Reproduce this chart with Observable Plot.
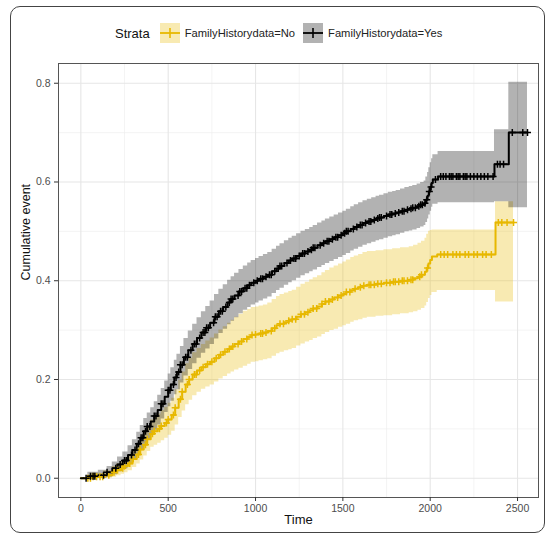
<!DOCTYPE html>
<html><head><meta charset="utf-8">
<script src="https://cdn.jsdelivr.net/npm/d3@7"></script>
<script src="https://cdn.jsdelivr.net/npm/@observablehq/plot@0.6"></script>
<style>
body{margin:0;background:#fff;font-family:"Liberation Sans",Arial,sans-serif;}
#wrap{position:relative;width:553px;height:535px;overflow:hidden;background:#fff}
#border{position:absolute;left:10px;top:6px;width:535px;height:527px;border:1px solid #444;border-radius:10px;box-sizing:border-box;z-index:5;pointer-events:none;background:transparent}
#legend{position:absolute;left:115px;top:22px;height:22px;display:flex;align-items:center;font-size:11.2px;color:#222;white-space:nowrap;z-index:3}
#legend .title{font-size:13px;margin-right:10px;color:#111}
#legend .lab{margin-left:5px;margin-right:8px}
#chart{position:absolute;left:0;top:55px;z-index:1}
</style></head><body>
<div id="wrap"><div id="border"></div><div id="legend"></div><div id="chart"></div></div>
<script>
// ---------- data ----------
const strata = ["FamilyHistorydata=No", "FamilyHistorydata=Yes"];
const strataColors = ["#E7B800", "#000000"];

// FamilyHistorydata=No : cumulative event step curve and its confidence band
const noTime = [0,60,130,180,205,230,250,270,295,320,340,360,380,400,420,440,460,480,500,520,540,560,580,600,620,640,665,690,715,740,765,790,815,840,860,880,905,930,955,975,1000,1020,1045,1070,1095,1120,1140,1165,1190,1210,1235,1260,1285,1310,1330,1355,1380,1400,1425,1450,1475,1500,1520,1545,1565,1590,1615,1640,1690,1735,1785,1830,1880,1905,1930,1950,1970,1980,1990,2000,2010,2040,2374,2477];
const noEst  = [0,0.003,0.006,0.012,0.016,0.02,0.025,0.03,0.039,0.048,0.058,0.068,0.079,0.09,0.095,0.1,0.106,0.112,0.119,0.128,0.143,0.16,0.175,0.19,0.2,0.21,0.218,0.225,0.231,0.236,0.243,0.25,0.256,0.262,0.267,0.272,0.277,0.282,0.286,0.29,0.291,0.293,0.295,0.298,0.304,0.31,0.313,0.316,0.319,0.322,0.327,0.332,0.336,0.34,0.344,0.348,0.353,0.358,0.362,0.366,0.37,0.373,0.377,0.381,0.384,0.387,0.39,0.392,0.394,0.396,0.398,0.4,0.402,0.405,0.408,0.412,0.418,0.426,0.435,0.442,0.449,0.453,0.518,0.518];
const noLower = [0,0,0,0.002,0.005,0.008,0.011,0.015,0.022,0.029,0.037,0.045,0.054,0.063,0.067,0.071,0.076,0.081,0.087,0.095,0.108,0.123,0.136,0.149,0.158,0.167,0.174,0.18,0.185,0.189,0.195,0.201,0.206,0.211,0.215,0.219,0.223,0.227,0.231,0.235,0.236,0.238,0.24,0.242,0.247,0.252,0.255,0.258,0.26,0.263,0.268,0.272,0.276,0.279,0.283,0.286,0.291,0.295,0.299,0.302,0.306,0.309,0.312,0.316,0.319,0.321,0.324,0.326,0.328,0.329,0.331,0.333,0.335,0.337,0.34,0.344,0.349,0.356,0.364,0.37,0.376,0.38,0.357,0.357];
const noUpper = [0,0.01,0.015,0.024,0.029,0.034,0.04,0.046,0.057,0.068,0.08,0.092,0.105,0.118,0.124,0.13,0.137,0.144,0.152,0.162,0.179,0.198,0.215,0.232,0.243,0.254,0.263,0.271,0.278,0.284,0.292,0.3,0.307,0.314,0.32,0.326,0.332,0.338,0.342,0.346,0.347,0.349,0.351,0.355,0.362,0.368,0.372,0.375,0.378,0.381,0.387,0.393,0.397,0.402,0.406,0.41,0.416,0.421,0.426,0.43,0.434,0.438,0.442,0.447,0.45,0.453,0.457,0.459,0.461,0.463,0.465,0.467,0.469,0.472,0.476,0.48,0.486,0.494,0.5,0.502,0.503,0.503,0.56,0.56];
const noCensor = [40,55,70,90,110,125,160,190,210,240,250,280,300,330,340,370,380,410,420,450,460,490,500,530,540,570,580,610,620,650,660,680,700,725,750,775,800,825,850,870,900,920,950,980,1000,1030,1040,1060,1090,1110,1140,1160,1190,1210,1230,1260,1280,1300,1330,1350,1380,1400,1420,1440,1470,1490,1520,1540,1570,1600,1620,1650,1660,1680,1700,1720,1750,1770,1790,1800,1820,1840,1850,1870,1890,1900,1940,1950,1985,2060,2080,2100,2130,2150,2170,2200,2220,2250,2270,2300,2320,2350,2390,2410,2440,2477];

// FamilyHistorydata=Yes : cumulative event step curve and its confidence band
const yesTime = [0,40,100,150,180,210,240,270,295,320,340,360,380,400,420,440,460,480,500,515,535,550,570,590,615,640,665,690,715,740,765,790,815,840,860,880,905,930,955,975,1000,1020,1045,1070,1095,1120,1140,1165,1190,1210,1235,1260,1285,1310,1330,1355,1380,1400,1425,1450,1475,1500,1520,1545,1565,1590,1615,1640,1665,1690,1710,1735,1760,1785,1805,1830,1855,1880,1900,1925,1945,1965,1975,1985,1992,2000,2008,2015,2045,2368,2450,2557];
const yesEst  = [0,0.004,0.006,0.012,0.02,0.028,0.036,0.047,0.057,0.07,0.082,0.095,0.105,0.115,0.126,0.138,0.151,0.165,0.178,0.19,0.204,0.215,0.23,0.245,0.259,0.272,0.284,0.295,0.305,0.315,0.327,0.338,0.347,0.356,0.363,0.37,0.378,0.385,0.391,0.396,0.4,0.404,0.408,0.412,0.419,0.425,0.43,0.436,0.441,0.445,0.45,0.455,0.459,0.463,0.467,0.472,0.476,0.48,0.484,0.488,0.492,0.496,0.5,0.505,0.509,0.513,0.517,0.52,0.523,0.526,0.528,0.531,0.534,0.536,0.538,0.541,0.544,0.546,0.548,0.551,0.554,0.557,0.564,0.572,0.581,0.59,0.598,0.605,0.611,0.636,0.7,0.7];
const yesLower = [0,0,0,0.002,0.007,0.013,0.019,0.028,0.036,0.047,0.057,0.069,0.078,0.087,0.097,0.108,0.12,0.133,0.145,0.156,0.169,0.179,0.193,0.207,0.22,0.232,0.243,0.253,0.262,0.271,0.282,0.293,0.302,0.311,0.318,0.325,0.333,0.34,0.346,0.351,0.355,0.359,0.363,0.367,0.374,0.38,0.385,0.391,0.396,0.4,0.405,0.41,0.414,0.418,0.422,0.427,0.431,0.435,0.439,0.443,0.447,0.451,0.455,0.46,0.464,0.468,0.472,0.475,0.478,0.481,0.483,0.486,0.489,0.491,0.493,0.496,0.499,0.501,0.503,0.506,0.509,0.512,0.518,0.525,0.533,0.541,0.549,0.555,0.558,0.56,0.548,0.548];
const yesUpper = [0,0.012,0.016,0.024,0.033,0.043,0.053,0.066,0.078,0.093,0.107,0.121,0.132,0.143,0.155,0.168,0.182,0.197,0.211,0.224,0.239,0.251,0.267,0.283,0.298,0.312,0.325,0.337,0.348,0.359,0.372,0.383,0.392,0.401,0.408,0.415,0.423,0.43,0.436,0.441,0.445,0.449,0.453,0.457,0.464,0.47,0.475,0.481,0.486,0.49,0.495,0.5,0.504,0.508,0.512,0.517,0.521,0.525,0.529,0.533,0.537,0.541,0.545,0.55,0.554,0.558,0.562,0.565,0.568,0.571,0.573,0.576,0.579,0.581,0.583,0.586,0.589,0.591,0.593,0.596,0.599,0.602,0.61,0.619,0.629,0.639,0.647,0.655,0.662,0.706,0.802,0.802];
const yesCensor = [30,55,70,80,130,150,200,225,250,260,290,310,330,345,355,370,380,395,420,430,460,470,500,510,530,545,560,570,580,600,610,630,650,660,680,700,710,720,730,760,770,780,800,810,830,850,860,870,900,910,920,940,950,965,990,1010,1030,1040,1060,1080,1090,1110,1130,1140,1150,1180,1200,1220,1230,1250,1270,1280,1300,1320,1330,1340,1370,1390,1410,1420,1440,1460,1470,1490,1510,1520,1530,1560,1580,1600,1610,1630,1650,1660,1680,1700,1710,1720,1750,1770,1780,1800,1820,1840,1850,1870,1890,1900,1915,1935,1945,1955,1970,1980,1995,2005,2030,2060,2075,2090,2110,2120,2130,2150,2160,2170,2190,2200,2210,2230,2250,2270,2290,2310,2330,2360,2385,2400,2420,2470,2530,2557];

const xTicks = [0,500,1000,1500,2000,2500];
const xMinor = [250,750,1250,1750,2250];
const yTicks = [0,0.2,0.4,0.6,0.8];
const yMinor = [0.1,0.3,0.5,0.7];

// ---------- build tables ----------
const rows = (T,E,L,U) => T.map((t,i)=>({time:t, est:E[i], lower:L[i], upper:U[i]}));
const censorRows = (C,T,E) => C.map(t=>({time:t, est:E[Math.max(0,d3.bisectRight(T,t)-1)]}));
const noRows = rows(noTime,noEst,noLower,noUpper), yesRows = rows(yesTime,yesEst,yesLower,yesUpper);
const noCens = censorRows(noCensor,noTime,noEst), yesCens = censorRows(yesCensor,yesTime,yesEst);

const plusSymbol = {draw(ctx,size){const r=Math.sqrt(size/Math.PI);ctx.moveTo(-r,0);ctx.lineTo(r,0);ctx.moveTo(0,-r);ctx.lineTo(0,r);}};

// ---------- legend ----------
const leg = document.getElementById("legend");
leg.innerHTML = `<span class="title">Strata</span>` + strata.map((s,i)=>{
  const c = strataColors[i];
  return `<svg width="20" height="20" style="display:block"><rect width="20" height="20" fill="${c}" fill-opacity="0.3"/><line x1="0" x2="20" y1="10" y2="10" stroke="${c}" stroke-width="1.8"/><line x1="10" x2="10" y1="5" y2="15" stroke="${c}" stroke-width="1.6"/></svg><span class="lab">${s}</span>`;
}).join("");

// ---------- chart ----------
const chart = Plot.plot({
  width: 553, height: 480,
  marginLeft: 58, marginRight: 15, marginTop: 8, marginBottom: 38,
  style: {fontFamily: "'Liberation Sans', Arial, sans-serif", fontSize: "10.5px", background: "transparent"},
  x: {domain: [-128, 2620]},
  y: {domain: [-0.039, 0.84]},
  marks: [
    Plot.gridX(xMinor, {stroke: "#ececec", strokeOpacity: 1, strokeWidth: 0.6}),
    Plot.gridY(yMinor, {stroke: "#ececec", strokeOpacity: 1, strokeWidth: 0.6}),
    Plot.gridX(xTicks, {stroke: "#e6e6e6", strokeOpacity: 1, strokeWidth: 1.1}),
    Plot.gridY(yTicks, {stroke: "#e6e6e6", strokeOpacity: 1, strokeWidth: 1.1}),
    Plot.areaY(noRows, {x: "time", y1: "lower", y2: "upper", curve: "step-after", fill: strataColors[0], fillOpacity: 0.3}),
    Plot.areaY(yesRows, {x: "time", y1: "lower", y2: "upper", curve: "step-after", fill: strataColors[1], fillOpacity: 0.3}),
    Plot.line(noRows, {x: "time", y: "est", curve: "step-after", stroke: strataColors[0], strokeWidth: 2}),
    Plot.line(yesRows, {x: "time", y: "est", curve: "step-after", stroke: strataColors[1], strokeWidth: 2}),
    Plot.dot(noCens, {x: "time", y: "est", symbol: plusSymbol, r: 3.5, fill: "none", stroke: strataColors[0], strokeWidth: 1.5}),
    Plot.dot(yesCens, {x: "time", y: "est", symbol: plusSymbol, r: 3.5, fill: "none", stroke: strataColors[1], strokeWidth: 1.5}),
    Plot.frame({stroke: "#555", strokeWidth: 1}),
    Plot.axisX({ticks: xTicks, tickSize: 4, tickPadding: 3, tickFormat: d3.format("d"), stroke: "#333", fill: "#4d4d4d", label: null, fontSize: 10.5}),
    Plot.axisY({ticks: yTicks, tickSize: 4, tickPadding: 4, tickFormat: d3.format(".1f"), stroke: "#333", fill: "#4d4d4d", label: null, fontSize: 10.5}),
    Plot.text(["Time"], {frameAnchor: "bottom", dy: 26, fontSize: 13, fill: "#111"}),
    Plot.text(["Cumulative event"], {frameAnchor: "left", dx: -33, rotate: -90, fontSize: 12.5, fill: "#111"})
  ]
});
document.getElementById("chart").appendChild(chart);
</script>
</body></html>
